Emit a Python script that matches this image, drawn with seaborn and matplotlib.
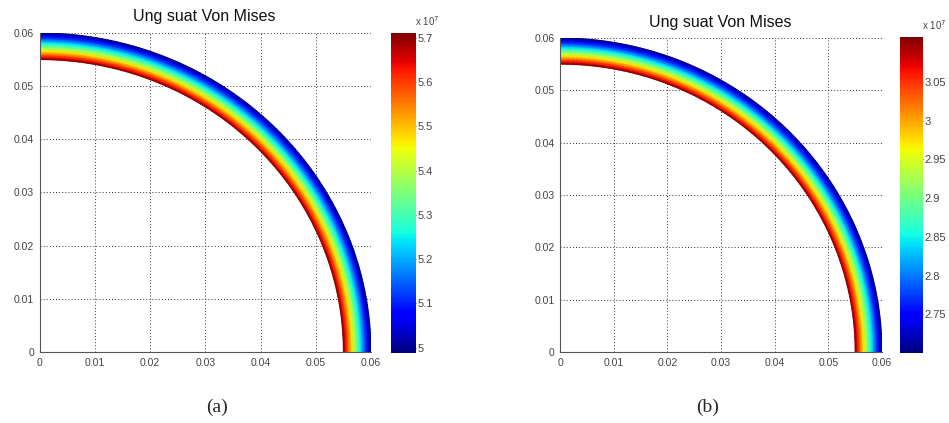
import numpy as np
import seaborn as sns
import matplotlib.pyplot as plt

r_nodes = [0.0550, 0.0555, 0.0560, 0.0565, 0.0570, 0.0575,
           0.0580, 0.0585, 0.0590, 0.0595, 0.0600]
stress_a = [5.711, 5.630, 5.551, 5.474, 5.399, 5.326,
            5.255, 5.186, 5.118, 5.052, 4.988]
stress_b = [3.108, 3.062, 3.018, 2.974, 2.932, 2.891,
            2.851, 2.811, 2.773, 2.736, 2.700]

cbar_ticks_a = [5.0, 5.1, 5.2, 5.3, 5.4, 5.5, 5.6, 5.7]
cbar_ticks_b = [2.75, 2.8, 2.85, 2.9, 2.95, 3.0, 3.05]
axis_ticks = [0, 0.01, 0.02, 0.03, 0.04, 0.05, 0.06]
title_txt = 'Ung suat Von Mises'
panel_labels = ['(a)', '(b)']

sns.set_style('white')
plt.rcParams['font.family'] = ['Liberation Sans', 'DejaVu Sans']

fig = plt.figure(figsize=(9.49, 4.23), dpi=100)
W, H = 949.0, 423.0


def px_axes(x0, y0, x1, y1):
    # pixel box (top-left origin) -> figure axes
    return fig.add_axes([x0 / W, 1 - y1 / H, (x1 - x0) / W, (y1 - y0) / H])


def draw_panel(box, cbox, stress, cticks, title_xy, label_xy, exp_xy, label):
    ax = px_axes(*box)
    theta = np.linspace(0, np.pi / 2, 181)
    R, T = np.meshgrid(np.array(r_nodes), theta)
    C = np.tile(np.array(stress), (len(theta), 1))
    mesh = ax.pcolormesh(R * np.cos(T), R * np.sin(T), C, cmap='jet',
                         shading='gouraud', vmin=min(stress), vmax=max(stress),
                         rasterized=True)
    ax.set_xlim(0, 0.06)
    ax.set_ylim(0, 0.06)
    ax.set_xticks(axis_ticks)
    ax.set_yticks(axis_ticks)
    ax.set_xticklabels(['%g' % t for t in axis_ticks])
    ax.set_yticklabels(['%g' % t for t in axis_ticks])
    ax.tick_params(direction='in', length=3, labelsize=7.5, colors='#444444',
                   pad=4)
    ax.grid(True, linestyle=(0, (1, 2.2)), color='#333333', linewidth=0.7)
    ax.set_axisbelow(True)
    for s in ['top', 'right']:
        ax.spines[s].set_visible(False)
    for s in ['left', 'bottom']:
        ax.spines[s].set_color('#555555')
        ax.spines[s].set_linewidth(0.8)

    cax = px_axes(*cbox)
    cb = fig.colorbar(mesh, cax=cax, ticks=cticks)
    cb.ax.set_yticklabels(['%g' % t for t in cticks])
    cb.ax.tick_params(direction='in', length=3, labelsize=8,
                      colors='#444444', pad=1)
    cb.outline.set_visible(False)

    fig.text(title_xy[0] / W, 1 - title_xy[1] / H, title_txt, ha='center',
             va='center', fontsize=11.5, color='#111111')
    fig.text(exp_xy[0] / W, 1 - exp_xy[1] / H, r'x 10$^{7}$', ha='left',
             va='center', fontsize=7, color='#444444')
    fig.text(label_xy[0] / W, 1 - label_xy[1] / H, label, ha='center',
             va='center', fontsize=14, family='Liberation Serif')


draw_panel((39.5, 33, 371, 352), (391, 33, 416, 353), stress_a, cbar_ticks_a,
           (204, 17), (217, 407), (415, 21), panel_labels[0])
draw_panel((560, 38, 882, 352), (900, 37, 923, 353), stress_b, cbar_ticks_b,
           (720, 23), (708, 407), (922, 25), panel_labels[1])

fig.savefig('out.png', dpi=100)
